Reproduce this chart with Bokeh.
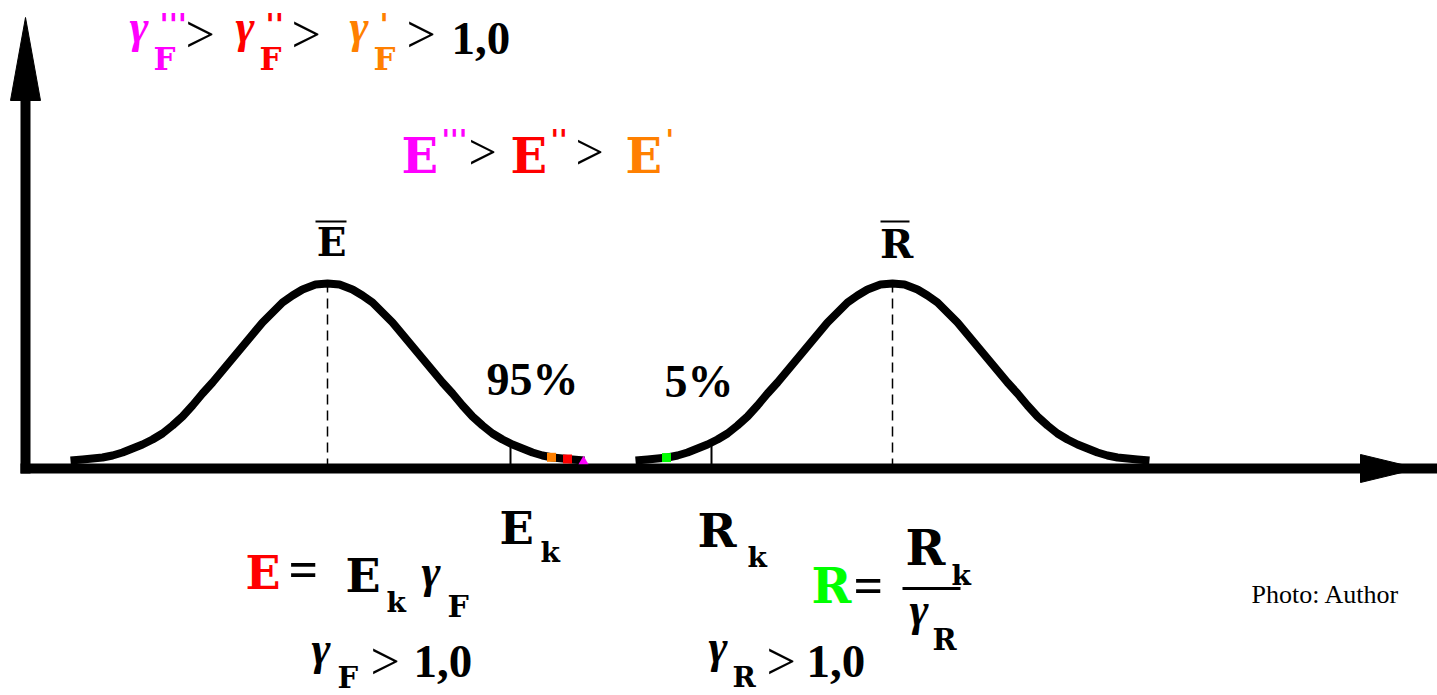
import numpy as np
from bokeh.plotting import figure
from bokeh.models import Range1d
from bokeh.core.properties import value
from bokeh.embed import file_html
from bokeh.resources import INLINE

# Means of the load-effect (E) and resistance (R) distributions, and their characteristic values
E_MEAN = 327
R_MEAN = 892
E_K = 510
R_K = 711

# Half of the bell profile: offset from the mean and height above the axis
profile_dx = [0, 12, 25, 35, 45, 55, 65, 75, 85, 95, 105, 115, 125, 135, 145,
              155, 165, 175, 185, 195, 205, 215, 225, 235, 245, 257]
profile_h = [185, 184, 179, 173, 166, 156, 146, 134, 122, 110, 98, 86, 75, 63, 52,
             43, 35, 29, 24, 20, 16, 13, 11, 10, 9, 8]

# Design values: E', E'', E''' on the E tail and R on the R tail
E_design = [551, 567, 583]
E_design_colors = ["#FF8000", "#FF0000", "#FF00FF"]
R_design = [666]
R_design_colors = ["#00FF00"]

MAGENTA, RED, ORANGE, GREEN = "#FF00FF", "#FF0000", "#FF8000", "#00FF00"

dx = np.array(profile_dx, dtype=float)
h = np.array(profile_h, dtype=float)
bell_dx = np.concatenate([-dx[::-1], dx[1:]])
bell_h = np.concatenate([h[::-1], h[1:]])


def bell_height(mean, x):
    return np.interp(np.asarray(x, dtype=float) - mean, bell_dx, bell_h)


p = figure(width=1437, height=695, output_backend="svg", toolbar_location=None,
           x_range=Range1d(0, 1437), y_range=Range1d(-227, 468),
           min_border=0, outline_line_color=None, background_fill_color="white",
           border_fill_color="white")
p.axis.visible = False
p.grid.visible = False

# Axes with arrowheads
p.segment(x0=[20], y0=[0], x1=[1437], y1=[0], line_color="black", line_width=10)
p.patch(x=[1360, 1418, 1360], y=[14, 0, -14], fill_color="black", line_color="black")
p.segment(x0=[25], y0=[-5], x1=[25], y1=[370], line_color="black", line_width=10)
p.patch(x=[10, 25, 40], y=[368, 451, 368], fill_color="black", line_color="black")

# Mean lines
for m in (E_MEAN, R_MEAN):
    p.segment(x0=[m], y0=[0], x1=[m], y1=[bell_height(m, m)], line_color="black",
              line_width=1.5, line_dash="10 6")

# Characteristic value ticks
p.segment(x0=[E_K, R_K], y0=[0, 0], x1=[E_K, R_K],
          y1=[float(bell_height(E_MEAN, E_K)), float(bell_height(R_MEAN, R_K))],
          line_color="black", line_width=2)

# Distribution curves
for m in (E_MEAN, R_MEAN):
    p.line(x=m + bell_dx, y=bell_h, line_color="black", line_width=8, line_join="round")

# Design value marks on the tails
p.scatter(x=E_design[:2], y=bell_height(E_MEAN, E_design[:2]), marker="square", size=9,
          fill_color=E_design_colors[:2], line_color=None)
p.scatter(x=E_design[2:], y=bell_height(E_MEAN, E_design[2:]) - 1, marker="triangle", size=10,
          fill_color=E_design_colors[2:], line_color=None)
p.scatter(x=R_design, y=bell_height(R_MEAN, R_design), marker="square", size=9,
          fill_color=R_design_colors, line_color=None)

# The svg text baseline sits about 0.37 em below the requested point; lift it back
BASELINE_LIFT = 0.37


def label(x, y, s, color="black", font="Liberation Serif", size=40, style="bold", align="left"):
    p.text(x=[x], y=[y + BASELINE_LIFT * size], text=[s], text_color=color,
           text_font=value(font), text_font_size=f"{size}px", text_font_style=style,
           text_align=align, text_baseline="alphabetic")


SLAB = "DejaVu Serif"
SANS = "DejaVu Sans"
SERIF = "Liberation Serif"

# γF''' > γF'' > γF' > 1,0
for gx, c, primes in ((129, MAGENTA, "'''"), (235, RED, "''"), (349, ORANGE, "'")):
    label(gx, 425, "γ", c, SERIF, 46, "bold italic")
    label(gx + 30, 433, primes, c, SANS, 30)
    label(gx + 24, 398, "F", c, SLAB, 31)
for gx in (185, 291, 406):
    label(gx, 415, ">", "black", SERIF, 52, "normal")
label(451, 413, "1,0", "black", SERIF, 47)

# E''' > E'' > E'
for ex, c, primes in ((401, MAGENTA, "'''"), (510, RED, "''"), (625, ORANGE, "'")):
    label(ex, 295, "E", c, SLAB, 48)
    label(ex + 40, 318, primes, c, SANS, 28)
for gx in (468, 575):
    label(gx, 298, ">", "black", SERIF, 50, "normal")

# Means
label(E_MEAN + 4, 212, "E", "black", SLAB, 39, align="center")
label(R_MEAN + 4, 210, "R", "black", SLAB, 40, align="center")
p.segment(x0=[E_MEAN - 12, R_MEAN - 12], y0=[247, 247], x1=[E_MEAN + 19, R_MEAN + 17],
          y1=[247, 247], line_color="black", line_width=2)

# Percentages
label(486, 72, "95%", "black", SERIF, 46)
label(664, 70, "5%", "black", SERIF, 46)

# Characteristic value labels
label(E_K - 11, -77, "E", "black", SLAB, 45)
label(E_K + 30, -94, "k", "black", SLAB, 28)
label(R_K - 14, -79, "R", "black", SLAB, 47)
label(R_K + 36, -99, "k", "black", SLAB, 28)

# E = Ek γF
label(245, -122, "E", RED, SLAB, 46)
label(288, -120, "=", "black", SERIF, 52)
label(345, -125, "E", "black", SLAB, 46)
label(386, -144, "k", "black", SLAB, 28)
label(421, -120, "γ", "black", SERIF, 46, "bold italic")
label(447, -149, "F", "black", SLAB, 30)

# γF > 1,0
label(311, -197, "γ", "black", SERIF, 46, "bold italic")
label(337, -220, "F", "black", SLAB, 29)
label(370, -212, ">", "black", SERIF, 52, "normal")
label(413, -210, "1,0", "black", SERIF, 47)

# R = Rk / γR
label(811, -135, "R", GREEN, SLAB, 48)
label(853, -136, "=", "black", SERIF, 52)
label(905, -97, "R", "black", SLAB, 48)
label(951, -117, "k", "black", SLAB, 28)
p.segment(x0=[902], y0=[-120], x1=[960], y1=[-120], line_color="black", line_width=3)
label(909, -158, "γ", "black", SERIF, 46, "bold italic")
label(932, -182, "R", "black", SLAB, 29)

# γR > 1,0
label(708, -195, "γ", "black", SERIF, 46, "bold italic")
label(732, -219, "R", "black", SLAB, 28)
label(766, -212, ">", "black", SERIF, 52, "normal")
label(806, -210, "1,0", "black", SERIF, 47)

# Credit
label(1251, -136, "Photo: Author", "black", SERIF, 26, "normal")

open("out.html", "w").write(file_html(p, INLINE))
